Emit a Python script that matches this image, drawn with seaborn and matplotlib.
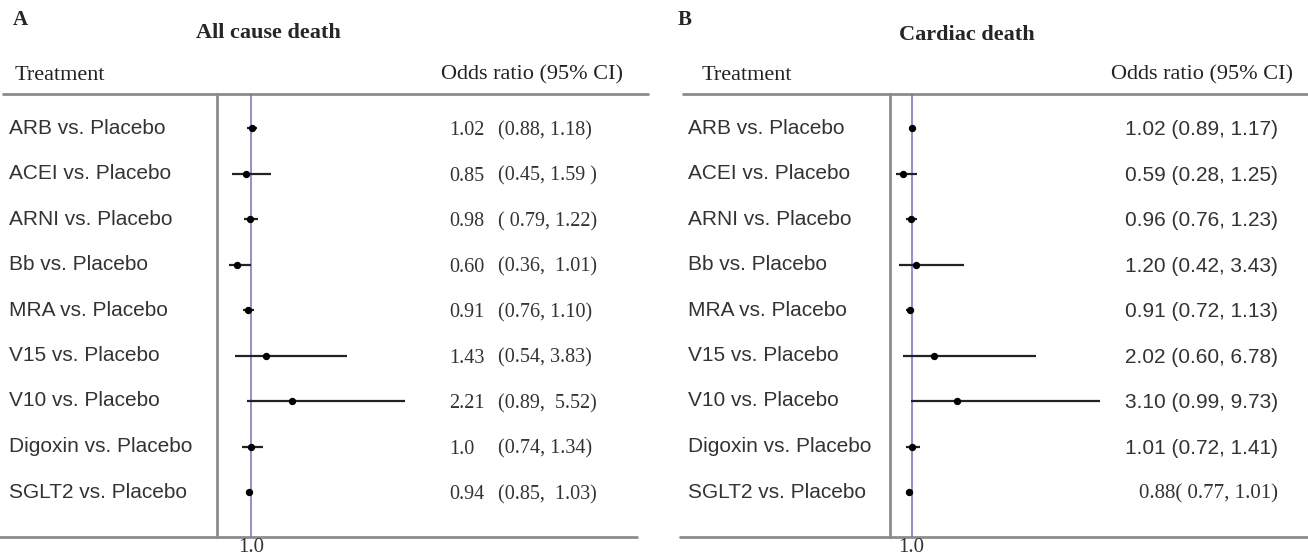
import numpy as np
import pandas as pd
import matplotlib
matplotlib.use("Agg")
import matplotlib.pyplot as plt
import matplotlib.transforms as mtransforms
import seaborn as sns

# ─── Data ─────────────────────────────────────────────────────────────────────
treatments = [
    "ARB vs. Placebo", "ACEI vs. Placebo", "ARNI vs. Placebo", "Bb vs. Placebo",
    "MRA vs. Placebo", "V15 vs. Placebo", "V10 vs. Placebo",
    "Digoxin vs. Placebo", "SGLT2 vs. Placebo",
]

# All cause death
or_a = [1.02, 0.85, 0.98, 0.60, 0.91, 1.43, 2.21, 1.0, 0.94]
lo_a = [0.88, 0.45, 0.79, 0.36, 0.76, 0.54, 0.89, 0.74, 0.85]
hi_a = [1.18, 1.59, 1.22, 1.01, 1.10, 3.83, 5.52, 1.34, 1.03]
or_a_text = ["1.02", "0.85", "0.98", "0.60", "0.91", "1.43", "2.21", "1.0", "0.94"]
ci_a_text = ["(0.88, 1.18)", "(0.45, 1.59 )", "( 0.79, 1.22)", "(0.36,  1.01)",
             "(0.76, 1.10)", "(0.54, 3.83)", "(0.89,  5.52)", "(0.74, 1.34)",
             "(0.85,  1.03)"]

# Cardiac death
or_b = [1.02, 0.59, 0.96, 1.20, 0.91, 2.02, 3.10, 1.01, 0.88]
lo_b = [0.89, 0.28, 0.76, 0.42, 0.72, 0.60, 0.99, 0.72, 0.77]
hi_b = [1.17, 1.25, 1.23, 3.43, 1.13, 6.78, 9.73, 1.41, 1.01]
txt_b = ["1.02 (0.89, 1.17)", "0.59 (0.28, 1.25)", "0.96 (0.76, 1.23)",
         "1.20 (0.42, 3.43)", "0.91 (0.72, 1.13)", "2.02 (0.60, 6.78)",
         "3.10 (0.99, 9.73)", "1.01 (0.72, 1.41)", "0.88( 0.77, 1.01)"]

SERIF = ["Liberation Serif", "DejaVu Serif"]
SANS = ["Liberation Sans", "DejaVu Sans"]
GRAY = "#8c8c8c"
BLUE = "#7070c8"

sns.set_style("white")
plt.rcParams["font.family"] = SANS

W, H = 1308, 559
fig = plt.figure(figsize=(W / 100, H / 100), dpi=100)

# background axes in pixel coordinates for the table text and rules
bg = fig.add_axes([0, 0, 1, 1])
bg.set_xlim(0, W)
bg.set_ylim(H, 0)
bg.axis("off")

TOP, BOT = 94, 537
ROW0, STEP = 128, 45.5


def forest_axes(left, right, xmax):
    ax = fig.add_axes([left / W, (H - BOT) / H, (right - left) / W, (BOT - TOP) / H])
    ax.set_xlim(0, xmax)
    ax.set_ylim((BOT - ROW0) / STEP, -(ROW0 - TOP) / STEP)
    ax.patch.set_alpha(0)
    for s in ["top", "right", "bottom"]:
        ax.spines[s].set_visible(False)
    ax.spines["left"].set_color(GRAY)
    ax.spines["left"].set_linewidth(2)
    ax.axvline(1.0, color=BLUE, lw=1.1, zorder=1)
    ax.set_xticks([1.0])
    ax.set_xticklabels(["1.0"], fontsize=15, family=SERIF, color="#333333")
    ax.tick_params(axis="x", length=0, pad=1)
    ax.set_yticks([])
    return ax


def draw_panel(ax, est, lo, hi):
    df = pd.DataFrame({"row": np.arange(len(est)), "est": est, "lo": lo, "hi": hi})
    ax.hlines(df["row"], df["lo"], df["hi"], color="#222222", lw=1.6, zorder=2)
    sns.scatterplot(data=df, x="est", y="row", ax=ax, color="black", s=28,
                    marker="o", edgecolor="black", linewidth=0, zorder=3)
    ax.set_xlabel("")
    ax.set_ylabel("")


# ─── Panel A ──────────────────────────────────────────────────────────────────
axA = forest_axes(217, 440, (440 - 217) / 34.0)
draw_panel(axA, or_a, lo_a, hi_a)

bg.text(13, 20, "A", fontsize=15, fontweight="bold", family=SERIF, va="center")
bg.text(268, 33, "All cause death", fontsize=16, fontweight="bold", family=SERIF,
        ha="center", va="center")
bg.text(15, 75, "Treatment", fontsize=16, family=SERIF, va="center", color="#222222")
bg.text(623, 75, "Odds ratio (95% CI)", fontsize=16, family=SERIF, ha="right",
        va="center", color="#222222")
bg.plot([3, 648], [TOP, TOP], color=GRAY, lw=2)
bg.plot([0, 637], [BOT, BOT], color=GRAY, lw=2)

trA = mtransforms.blended_transform_factory(bg.transData, axA.transData)
for i, name in enumerate(treatments):
    bg.text(9, i, name, transform=trA, fontsize=15, family=SANS, va="center",
            color="#333333")
    bg.text(449, i + 0.06, or_a_text[i], transform=trA, fontsize=14.5, family=SERIF,
            va="center", color="#333333")
    bg.text(498, i + 0.06, ci_a_text[i], transform=trA, fontsize=14.5, family=SERIF,
            va="center", color="#333333")

# ─── Panel B ──────────────────────────────────────────────────────────────────
axB = forest_axes(890, 1110, (1110 - 890) / 21.6)
draw_panel(axB, or_b, lo_b, hi_b)

bg.text(678, 20, "B", fontsize=15, fontweight="bold", family=SERIF, va="center")
bg.text(967, 35, "Cardiac death", fontsize=16, fontweight="bold", family=SERIF,
        ha="center", va="center")
bg.text(702, 75, "Treatment", fontsize=16, family=SERIF, va="center", color="#222222")
bg.text(1293, 75, "Odds ratio (95% CI)", fontsize=16, family=SERIF, ha="right",
        va="center", color="#222222")
bg.plot([683, 1308], [TOP, TOP], color=GRAY, lw=2)
bg.plot([680, 1308], [BOT, BOT], color=GRAY, lw=2)

trB = mtransforms.blended_transform_factory(bg.transData, axB.transData)
for i, name in enumerate(treatments):
    bg.text(688, i, name, transform=trB, fontsize=15, family=SANS, va="center",
            color="#333333")
    fam = SERIF if i == len(treatments) - 1 else SANS
    bg.text(1278, i + 0.04, txt_b[i], transform=trB, fontsize=15, family=fam,
            ha="right", va="center", color="#333333")

fig.savefig("out.png", dpi=100)
